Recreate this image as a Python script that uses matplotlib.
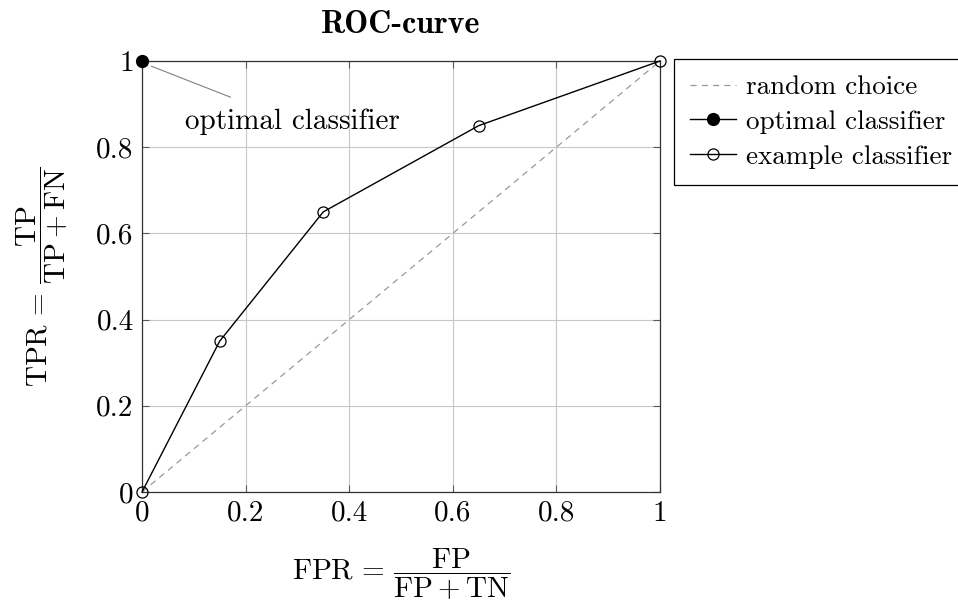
import numpy as np
import matplotlib
matplotlib.use("Agg")
from matplotlib import pyplot as plt
from matplotlib.ticker import FixedLocator, FormatStrFormatter

plt.rcParams['font.family'] = 'cmr10'
plt.rcParams['mathtext.fontset'] = 'cm'
plt.rcParams['axes.formatter.use_mathtext'] = True
fs = 21
plt.rcParams['font.size'] = fs

# data
random_fpr = [0, 1]
random_tpr = [0, 1]
optimal_fpr = [0]
optimal_tpr = [1]
example_fpr = [0, 0.15, 0.35, 0.65, 1]
example_tpr = [0, 0.35, 0.65, 0.85, 1]
ticks = [0, 0.2, 0.4, 0.6, 0.8, 1]

fig = plt.figure(figsize=(9.58, 6.03), dpi=100)
ax = fig.add_axes([142/958, 1-492/603, (660-142)/958, (492-61)/603])

ax.plot(random_fpr, random_tpr, color='0.6', lw=0.9, dashes=(5, 4),
        label='random choice')
ax.plot(optimal_fpr, optimal_tpr, color='k', lw=1, marker='o', ms=8.5,
        mfc='k', mec='k', clip_on=False, zorder=5, label='optimal classifier')
ax.plot(example_fpr, example_tpr, color='k', lw=1, marker='o', ms=8,
        mfc='none', mec='k', mew=0.9, clip_on=False, zorder=4,
        label='example classifier')

ax.annotate('optimal classifier', xy=(0.018, 0.988), xytext=(0.29, 0.86),
            ha='center', va='center', fontsize=fs,
            arrowprops=dict(arrowstyle='-', color='0.5', lw=0.8,
                            shrinkA=16, shrinkB=0))

ax.set_xlim(0, 1)
ax.set_ylim(0, 1)
ax.xaxis.set_major_locator(FixedLocator(ticks))
ax.yaxis.set_major_locator(FixedLocator(ticks))
ax.xaxis.set_major_formatter(FormatStrFormatter('%g'))
ax.yaxis.set_major_formatter(FormatStrFormatter('%g'))
ax.grid(True, color='0.78', lw=0.8)
ax.set_axisbelow(True)
ax.tick_params(direction='in', length=5, width=0.8, color='0.35',
               top=True, right=True, labelsize=fs, pad=6)
for s in ax.spines.values():
    s.set_linewidth(0.9)
    s.set_color('0.2')

ax.set_xlabel(r'$\mathrm{FPR}\,=\,\dfrac{\mathrm{FP}}{\mathrm{FP}+\mathrm{TN}}$',
              fontsize=fs, labelpad=14)
ax.set_ylabel(r'$\mathrm{TPR}\,=\,\dfrac{\mathrm{TP}}{\mathrm{TP}+\mathrm{FN}}$',
              fontsize=fs, labelpad=20)
ax.set_title('ROC-curve', fontfamily='cmb10', fontsize=23, pad=20)

leg = ax.legend(loc='upper left', bbox_to_anchor=(1.027, 1.005), fontsize=19.5,
                frameon=True, fancybox=False, edgecolor='k', framealpha=1,
                numpoints=1, handlelength=1.7, handletextpad=0.35,
                borderpad=0.6, labelspacing=0.4, borderaxespad=0)
leg.get_frame().set_linewidth(0.9)

fig.savefig('out.png', dpi=100)
